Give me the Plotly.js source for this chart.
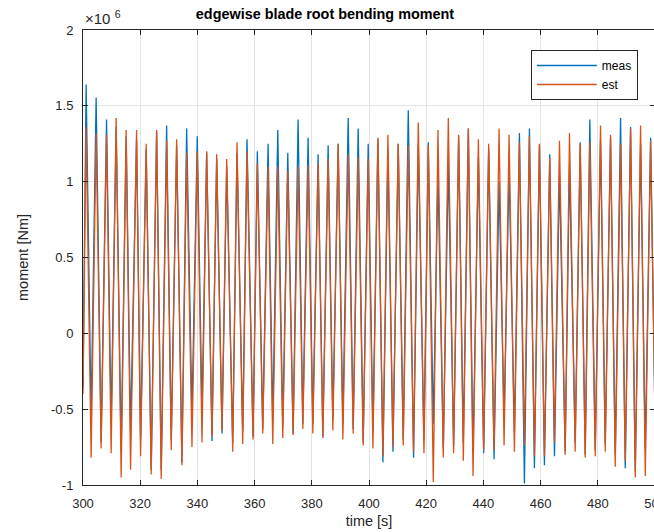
<!DOCTYPE html>
<html>
<head>
<meta charset="utf-8">
<script src="https://cdn.plot.ly/plotly-3.0.1.min.js"></script>
<style>
html, body { margin: 0; padding: 0; overflow: hidden; background: #fff; }
#chart { width: 680px; height: 532px; }
</style>
</head>
<body>
<div id="chart"></div>
<script>
// Values (moment in units of 1e6 Nm, time in s)
const startTime = 300, startMeas = -0.36, startEst = -0.40;
const endTime = 500, endMeas = -0.55, endEst = -0.55;

const peakTimes = [301.09,304.59,308.23,311.59,315.09,318.73,322.09,325.74,329.24,332.74,
  336.24,339.95,343.24,346.74,350.25,353.85,357.35,360.96,364.71,368.10,
  371.60,375.21,378.71,382.21,385.71,389.22,392.72,396.22,399.72,403.12,
  406.62,410.22,413.73,417.23,420.73,424.12,427.73,431.34,434.73,438.24,
  441.84,445.48,448.98,452.59,456.09,459.59,463.20,466.60,470.10,473.84,
  477.21,480.95,484.45,487.96,491.46,494.96,498.46];

const measPeaks = [1.64,1.555,1.41,1.36,1.30,1.28,1.21,1.33,1.37,1.24,
  1.35,1.30,1.19,1.15,1.10,1.19,1.28,1.20,1.25,1.34,
  1.19,1.41,1.29,1.18,1.24,1.25,1.42,1.35,1.25,1.28,
  1.21,1.25,1.47,1.25,1.26,1.05,1.12,1.30,1.35,1.16,
  1.22,1.00,1.08,1.32,1.35,1.24,1.18,1.05,1.10,1.26,
  1.41,1.27,1.29,1.42,1.36,1.25,1.29];

const estPeaks = [1.36,1.32,1.31,1.42,1.34,1.34,1.25,1.34,1.27,1.28,
  1.19,1.20,1.20,1.18,1.15,1.26,1.20,1.12,1.10,1.10,
  1.07,1.10,1.11,1.12,1.15,1.25,1.18,1.16,1.15,1.29,
  1.31,1.25,1.24,1.39,1.24,1.34,1.42,1.31,1.35,1.28,
  1.25,1.35,1.31,1.26,1.30,1.25,1.16,1.27,1.32,1.25,
  1.26,1.37,1.31,1.25,1.35,1.37,1.27];

const troughTimes = [302.84,306.34,309.84,313.34,316.63,320.13,323.84,327.35,330.85,334.59,
  338.10,341.60,345.10,348.60,352.35,355.85,359.45,362.85,366.35,369.85,
  373.46,376.86,380.36,383.86,387.36,390.86,394.47,397.97,401.37,404.87,
  408.37,411.97,415.58,419.22,422.48,425.98,429.59,432.98,436.38,440.09,
  443.73,447.23,450.84,454.34,457.84,461.34,464.85,468.59,472.09,475.60,
  479.10,482.60,486.10,489.60,493.10,496.60];

const measTroughs = [-0.56,-0.72,-0.60,-0.77,-0.64,-0.70,-0.90,-0.90,-0.70,-0.85,
  -0.54,-0.52,-0.71,-0.66,-0.72,-0.65,-0.68,-0.63,-0.58,-0.62,
  -0.66,-0.60,-0.60,-0.68,-0.57,-0.60,-0.63,-0.72,-0.64,-0.85,
  -0.78,-0.70,-0.82,-0.70,-0.60,-0.76,-0.74,-0.72,-0.79,-0.79,
  -0.83,-0.56,-0.65,-0.99,-0.89,-0.87,-0.81,-0.78,-0.72,-0.80,
  -0.77,-0.73,-0.80,-0.89,-0.91,-0.76];

const estTroughs = [-0.82,-0.76,-0.79,-0.95,-0.90,-0.81,-0.93,-0.96,-0.77,-0.87,
  -0.75,-0.72,-0.68,-0.64,-0.78,-0.73,-0.70,-0.66,-0.73,-0.69,
  -0.67,-0.63,-0.66,-0.69,-0.64,-0.70,-0.66,-0.74,-0.76,-0.81,
  -0.75,-0.74,-0.78,-0.79,-0.98,-0.82,-0.79,-0.84,-0.94,-0.77,
  -0.77,-0.74,-0.78,-0.74,-0.81,-0.81,-0.72,-0.80,-0.78,-0.82,
  -0.81,-0.78,-0.88,-0.84,-0.95,-0.94];

const xTicks = [300,320,340,360,380,400,420,440,460,480,500];
const yTickVals = [-1,-0.5,0,0.5,1,1.5,2];
const yTickText = ['-1','-0.5','0','0.5','1','1.5','2'];
const seriesNames = ['meas','est'];

// Build the two series from the read extrema, in time order
const SCALE = 1e6;
const t = [startTime], meas = [startMeas*SCALE], est = [startEst*SCALE];
for (let i = 0; i < peakTimes.length; i++) {
  t.push(peakTimes[i]); meas.push(measPeaks[i]*SCALE); est.push(estPeaks[i]*SCALE);
  if (i < troughTimes.length) {
    t.push(troughTimes[i]); meas.push(measTroughs[i]*SCALE); est.push(estTroughs[i]*SCALE);
  }
}
t.push(endTime); meas.push(endMeas*SCALE); est.push(endEst*SCALE);

const FONT = 'Liberation Sans, Arial, Helvetica, sans-serif';
const AXC = '#262626';
const W = 680;

const traces = [
  {x: t, y: meas, type: 'scatter', mode: 'lines', name: seriesNames[0],
   line: {color: '#0072BD', width: 1.3}},
  {x: t, y: est, type: 'scatter', mode: 'lines', name: seriesNames[1],
   line: {color: '#D95319', width: 1.3}}
];

const layout = {
  width: W, height: 532,
  margin: {l: 83, r: 25, t: 30, b: 47},
  paper_bgcolor: '#ffffff', plot_bgcolor: '#ffffff',
  font: {family: FONT, color: AXC, size: 13},
  title: {text: '<b>edgewise blade root bending moment</b>',
          font: {family: FONT, size: 14.4, color: '#000'},
          xref: 'container', yref: 'container',
          x: 325/W, xanchor: 'center', y: 1 - 14/532, yanchor: 'middle'},
  xaxis: {range: [300, 500], tickvals: xTicks, ticks: 'inside', ticklen: 5,
          tickcolor: AXC, showline: true, linecolor: AXC, linewidth: 1, mirror: 'ticks',
          showgrid: true, gridcolor: '#e3e3e3', gridwidth: 1, zeroline: false,
          tickfont: {family: FONT, size: 13, color: AXC}, ticklabelstandoff: 6,
          title: {text: 'time [s]', font: {family: FONT, size: 14.5, color: AXC}, standoff: 6}},
  yaxis: {range: [-1e6, 2e6], tickvals: yTickVals.map(v => v*SCALE), ticktext: yTickText,
          ticks: 'inside', ticklen: 5, tickcolor: AXC, showline: true, linecolor: AXC,
          linewidth: 1, mirror: 'ticks', showgrid: true, gridcolor: '#e3e3e3', gridwidth: 1,
          zeroline: false, tickfont: {family: FONT, size: 13, color: AXC}, ticklabelstandoff: 6,
          title: {text: 'moment [Nm]', font: {family: FONT, size: 14.5, color: AXC}, standoff: 18}},
  showlegend: true,
  legend: {x: 0.970, y: 0.956, xanchor: 'right', yanchor: 'top',
           bgcolor: '#ffffff', bordercolor: AXC, borderwidth: 1,
           font: {family: FONT, size: 12, color: '#000'}, itemwidth: 60,
           tracegroupgap: 0},
  annotations: [{
    text: '×10 <sup>6</sup>', xref: 'paper', yref: 'paper', x: 0, y: 1,
    xanchor: 'left', yanchor: 'bottom', xshift: 0, yshift: 1, showarrow: false,
    font: {family: FONT, size: 15, color: AXC}
  }]
};

Plotly.newPlot('chart', traces, layout, {displayModeBar: false, responsive: false});
</script>
</body>
</html>
